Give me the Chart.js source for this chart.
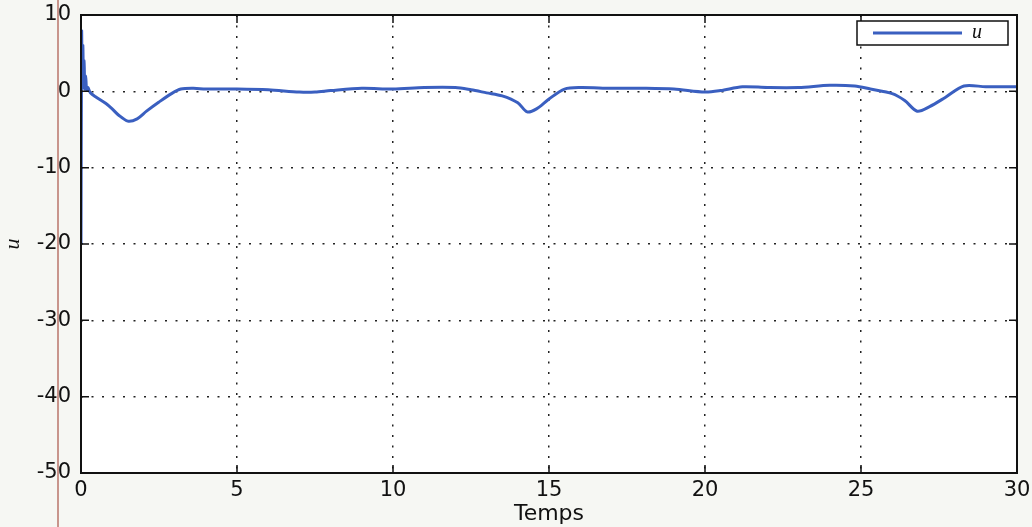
<!DOCTYPE html>
<html>
<head>
<meta charset="utf-8">
<script src="https://cdn.jsdelivr.net/npm/chart.js@4"></script>
<style>
  body { margin: 0; background: #f6f7f3; }
  #wrap { width: 1032px; height: 527px; position: relative; }
</style>
</head>
<body>
<div id="wrap"><canvas id="uChart"></canvas></div>
<script>
// time samples (Temps) and command u
const times = [0, 0.02, 0.04, 0.06, 0.08, 0.1, 0.12, 0.15, 0.18, 0.22, 0.3, 0.5, 0.8, 1.0, 1.2, 1.5, 1.8, 2.1, 2.5, 2.9,
  3.2, 3.6, 4, 5, 6, 7, 7.5, 8, 9, 10, 11, 12, 12.5, 13, 13.5, 14, 14.3, 14.6, 15, 15.5,
  16, 17, 18, 19, 20, 20.5, 21.2, 22, 23, 24, 24.8, 25.3, 26, 26.4, 26.8, 27.2, 27.7, 28.3, 29, 30];
const uValues = [-20, 7.8, 1, 6, 0.5, 4, 0.3, 2, 0.2, 0.5, -0.2, -0.8, -1.6, -2.3, -3.1, -3.9, -3.6, -2.6, -1.4, -0.3,
  0.3, 0.4, 0.3, 0.3, 0.2, -0.1, -0.1, 0.1, 0.4, 0.3, 0.5, 0.5, 0.2, -0.2, -0.6, -1.5, -2.7, -2.3, -1.0, 0.3,
  0.5, 0.4, 0.4, 0.3, -0.1, 0.1, 0.6, 0.5, 0.5, 0.8, 0.7, 0.3, -0.3, -1.2, -2.6, -2.0, -0.8, 0.7, 0.6, 0.6];
const xTicks = [0, 5, 10, 15, 20, 25, 30];
const yTicks = [10, 0, -10, -20, -30, -40, -50];

const lineColor = '#3a5fc0';
const points = times.map((t, i) => ({ x: t, y: uValues[i] }));

// white plot area, box frame, legend inside the axes, and the scan's red margin line
const matlabFrame = {
  id: 'matlabFrame',
  beforeDraw(chart) {
    const { ctx, chartArea: a } = chart;
    ctx.save();
    ctx.fillStyle = '#ffffff';
    ctx.fillRect(a.left, a.top, a.right - a.left, a.bottom - a.top);
    ctx.restore();
  },
  afterDraw(chart) {
    const { ctx, chartArea: a } = chart;
    ctx.save();
    ctx.strokeStyle = '#111';
    ctx.lineWidth = 2;
    ctx.strokeRect(a.left, a.top, a.right - a.left, a.bottom - a.top);

    // small inward tick marks like MATLAB
    ctx.lineWidth = 1.5;
    const xs = chart.scales.x, ys = chart.scales.y;
    xTicks.forEach(v => {
      const px = xs.getPixelForValue(v);
      ctx.beginPath();
      ctx.moveTo(px, a.bottom); ctx.lineTo(px, a.bottom - 8);
      ctx.moveTo(px, a.top); ctx.lineTo(px, a.top + 8);
      ctx.stroke();
    });
    yTicks.forEach(v => {
      const py = ys.getPixelForValue(v);
      ctx.beginPath();
      ctx.moveTo(a.left, py); ctx.lineTo(a.left + 8, py);
      ctx.moveTo(a.right, py); ctx.lineTo(a.right - 8, py);
      ctx.stroke();
    });

    // legend box
    const lx = 857, ly = 21, lw = 151, lh = 24;
    ctx.fillStyle = '#fff';
    ctx.fillRect(lx, ly, lw, lh);
    ctx.strokeStyle = '#111';
    ctx.lineWidth = 1.5;
    ctx.strokeRect(lx, ly, lw, lh);
    ctx.strokeStyle = lineColor;
    ctx.lineWidth = 3;
    ctx.beginPath();
    ctx.moveTo(873, ly + lh / 2);
    ctx.lineTo(962, ly + lh / 2);
    ctx.stroke();
    ctx.fillStyle = '#111';
    ctx.font = 'italic 20px "Liberation Serif"';
    ctx.textBaseline = 'middle';
    ctx.fillText(chart.data.datasets[0].label, 972, ly + lh / 2);

    // red vertical line from the scan
    ctx.strokeStyle = '#b8746a';
    ctx.lineWidth = 1.5;
    ctx.beginPath();
    ctx.moveTo(58, 0);
    ctx.lineTo(58, chart.height);
    ctx.stroke();
    ctx.restore();
  }
};

const tickFont = { family: '"DejaVu Sans", sans-serif', size: 21 };

new Chart(document.getElementById('uChart'), {
  type: 'line',
  data: {
    datasets: [{
      label: 'u',
      data: points,
      borderColor: lineColor,
      borderWidth: 3,
      pointRadius: 0,
      tension: 0.3,
      fill: false
    }]
  },
  options: {
    responsive: true,
    maintainAspectRatio: false,
    animation: false,
    layout: { padding: { top: 15, right: 15, left: 0, bottom: 0 } },
    plugins: { legend: { display: false }, tooltip: { enabled: false } },
    scales: {
      x: {
        type: 'linear',
        min: 0,
        max: 30,
        afterBuildTicks: s => { s.ticks = xTicks.map(v => ({ value: v })); },
        afterFit: s => { s.height = 54; s.paddingLeft = 0; s.paddingRight = 0; },
        grid: { color: '#222', lineWidth: 1.5, drawTicks: false },
        border: { display: false, dash: [2, 8.5] },
        ticks: { font: tickFont, color: '#111', padding: 5 },
        title: { display: true, text: 'Temps', font: { family: '"DejaVu Sans", sans-serif', size: 22 }, color: '#111', padding: { top: 0, bottom: 0 } }
      },
      y: {
        min: -50,
        max: 10,
        afterBuildTicks: s => { s.ticks = yTicks.map(v => ({ value: v })); },
        afterFit: s => { s.width = 81; s.paddingTop = 0; s.paddingBottom = 0; },
        grid: { color: '#222', lineWidth: 1.5, drawTicks: false },
        border: { display: false, dash: [2, 8.5] },
        ticks: { font: tickFont, color: '#111', padding: 10 },
        title: { display: true, text: 'u', font: { family: '"Liberation Serif", serif', size: 22, style: 'italic' }, color: '#111', padding: { top: 0, bottom: 0 } }
      }
    }
  },
  plugins: [matlabFrame]
});
</script>
</body>
</html>
